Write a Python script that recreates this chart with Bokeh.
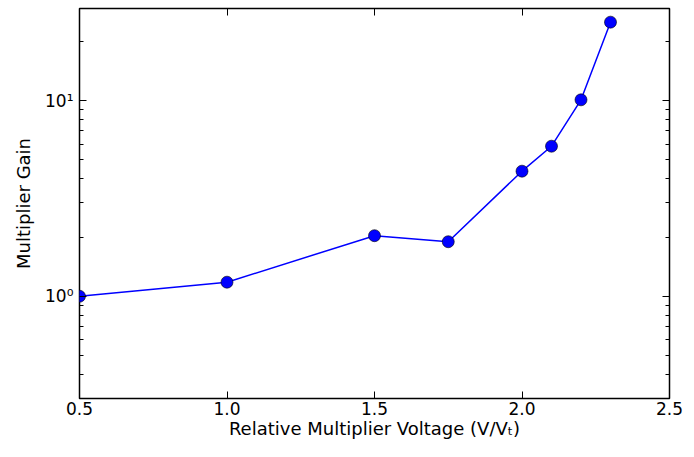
from bokeh.plotting import figure
from bokeh.models import FixedTicker, LogAxis, LinearAxis, Range1d
from bokeh.embed import file_html
from bokeh.resources import INLINE

voltage = [0.5, 1.0, 1.5, 1.75, 2.0, 2.1, 2.2, 2.3]
gain = [1.0, 1.18, 2.04, 1.9, 4.36, 5.85, 10.1, 25.2]

x_ticks = [0.5, 1.0, 1.5, 2.0, 2.5]
x_tick_labels = ["0.5", "1.0", "1.5", "2.0", "2.5"]
y_ticks = [1, 10]
y_tick_labels = ["10⁰", "10¹"]
y_minor = [0.3, 0.4, 0.5, 0.6, 0.7, 0.8, 0.9, 2, 3, 4, 5, 6, 7, 8, 9, 20, 30]

FONT = "DejaVu Sans"

p = figure(width=686, height=441, y_axis_type="log",
           x_range=Range1d(0.5, 2.5), y_range=Range1d(0.3, 29.6),
           output_backend="svg", toolbar_location=None,
           min_border_left=79, min_border_right=17, min_border_top=8, min_border_bottom=38)
p.grid.visible = False
p.outline_line_color = "black"
p.outline_line_width = 1.5
p.background_fill_color = "white"
p.border_fill_color = "white"

p.line(voltage, gain, line_color="blue", line_width=1.5)
p.scatter(voltage, gain, size=12, fill_color="blue", line_color="black", line_width=0.6)

xa = p.xaxis[0]
xa.ticker = FixedTicker(ticks=x_ticks)
xa.major_label_overrides = {t: l for t, l in zip(x_ticks, x_tick_labels)}
xa.axis_label = "Relative Multiplier Voltage (V/Vₜ)"

ya = p.yaxis[0]
ya.ticker = FixedTicker(ticks=y_ticks, minor_ticks=y_minor)
ya.major_label_overrides = {t: l for t, l in zip(y_ticks, y_tick_labels)}
ya.axis_label = "Multiplier Gain"

for ax in (xa, ya):
    ax.major_tick_in = 7
    ax.major_tick_out = 0
    ax.minor_tick_in = 4
    ax.minor_tick_out = 0
    ax.axis_line_color = None
    ax.major_tick_line_color = "black"
    ax.minor_tick_line_color = "black"
    ax.major_label_text_font = FONT
    ax.major_label_text_font_size = "17px"
    ax.major_label_text_color = "black"
    ax.axis_label_text_font = FONT
    ax.axis_label_text_font_size = "18px"
    ax.axis_label_text_font_style = "normal"
    ax.axis_label_text_color = "black"
xa.major_label_standoff = 3
xa.axis_label_standoff = 0
ya.major_label_standoff = 6
ya.axis_label_standoff = 8

# mirrored ticks on right and top
ra = LogAxis(ticker=FixedTicker(ticks=y_ticks, minor_ticks=y_minor))
ta = LinearAxis(ticker=FixedTicker(ticks=x_ticks))
for ax in (ra, ta):
    ax.major_tick_in = 7
    ax.major_tick_out = 0
    ax.minor_tick_in = 4
    ax.minor_tick_out = 0
    ax.axis_line_color = None
    ax.major_label_text_font_size = "0px"
    ax.major_label_text_color = None
    ax.major_label_standoff = 0
ta.minor_tick_line_color = None
p.add_layout(ra, "right")
p.add_layout(ta, "above")

open("out.html", "w").write(file_html(p, INLINE))
